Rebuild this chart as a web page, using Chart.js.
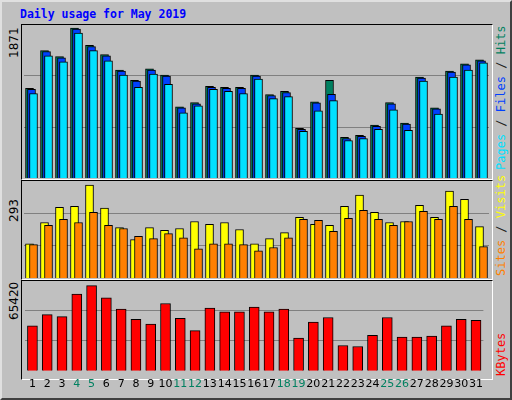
<!DOCTYPE html>
<html>
<head>
<meta charset="utf-8">
<script src="https://cdn.jsdelivr.net/npm/chart.js@4"></script>
<style>
  body { margin: 0; background: #fff; }
  #frame { position: relative; width: 508px; height: 396px; background: #c0c0c0;
           border: 2px solid; border-color: #e0e0e0 #404040 #404040 #e0e0e0; overflow: hidden; }
  .panel { position: absolute; left: 19px; width: 470px; border: 1px solid;
           border-color: #000 #fff #fff #000; }
  canvas { position: absolute; }
  .title { position: absolute; left: 18px; top: 5px; font: bold 11.5px "DejaVu Sans Mono", monospace; color: #0000ff; }
  .lab { position: absolute; font: 12px "DejaVu Sans", sans-serif; white-space: nowrap;
         transform-origin: 0 0; transform: rotate(-90deg); }
  .rlab { position: absolute; font: 12px "DejaVu Sans Mono", monospace; white-space: nowrap;
          transform-origin: 0 0; transform: rotate(-90deg); }
</style>
</head>
<body>
<div id="frame">
  <div class="title">Daily usage for May 2019</div>
  <div class="panel" style="top:22px;height:154px"></div>
  <div class="panel" style="top:178px;height:98px"></div>
  <div class="panel" style="top:278px;height:98px"></div>
  <div class="lab" style="left:5px;top:56px">1871</div>
  <div class="lab" style="left:5px;top:220px">293</div>
  <div class="lab" style="left:5px;top:318px">65420</div>
  <div class="rlab" style="left:492px;top:168px"><span style="color:#00e0ff">Pages</span> <span style="color:#202020">/</span> <span style="color:#0040ff">Files</span> <span style="color:#202020">/</span> <span style="color:#008060">Hits</span></div>
  <div class="rlab" style="left:492px;top:274px"><span style="color:#ff8000">Sites</span> <span style="color:#202020">/</span> <span style="color:#ffff00">Visits</span></div>
  <div class="rlab" style="left:492px;top:374px"><span style="color:#ff0000">KBytes</span></div>
  <canvas id="c1" style="left:20px;top:23px"></canvas>
  <canvas id="c2" style="left:20px;top:179px"></canvas>
  <canvas id="c3" style="left:20px;top:279px"></canvas>
</div>
<script>
// Values
const days = ['1','2','3','4','5','6','7','8','9','10','11','12','13','14','15','16','17','18','19','20','21','22','23','24','25','26','27','28','29','30','31'];
const weekend = ['4','5','11','12','18','19','25','26'];
const hits = [1118,1590,1514,1871,1654,1539,1348,1220,1361,1284,889,940,1144,1131,1131,1284,1042,1080,621,952,1220,506,532,659,940,685,1259,876,1335,1424,1475];
const files = [1105,1578,1501,1858,1641,1526,1335,1208,1348,1271,876,927,1131,1118,1118,1271,1029,1067,608,939,1043,493,519,646,927,672,1246,863,1322,1411,1463];
const pages = [1054,1526,1450,1807,1590,1463,1284,1131,1297,1169,812,901,1106,1080,1054,1233,991,1016,583,838,965,468,493,608,850,595,1208,799,1259,1348,1437];
const visits = [108,175,223,226,293,220,159,121,159,150,156,178,169,175,153,108,124,143,191,169,166,226,261,207,175,178,229,191,274,248,162];
const sites = [105,166,185,175,207,166,156,131,124,140,127,92,108,108,105,86,96,127,185,182,147,188,213,185,166,178,210,185,226,185,99];
const kbytes = [34504,43130,41690,58940,65420,56070,47440,39530,35940,51750,40250,30910,48160,45280,45280,48880,45280,47440,25160,37380,40970,19410,18690,27310,40970,25880,25880,26600,34500,39530,38820];

// shift each dataset sideways so the bars overlap like the original
const shiftPlugin = {
    id: 'shift',
    beforeDatasetDraw(chart, args) {
        chart.ctx.save();
        chart.ctx.translate(args.meta._dataset.shift || 0, 0);
    },
    afterDatasetDraw(chart) {
        chart.ctx.restore();
    }
};

function makeChart(id, w, h, datasets, max, showX) {
    const el = document.getElementById(id);
    el.width = w; el.height = h;
    el.style.width = w + 'px'; el.style.height = h + 'px';
    return new Chart(el, {
        type: 'bar',
        data: { labels: days, datasets: datasets },
        plugins: [shiftPlugin],
        options: {
            responsive: false,
            animation: false,
            layout: { padding: { left: 2, right: 1, top: 0, bottom: 0 } },
            plugins: { legend: { display: false }, tooltip: { enabled: false } },
            datasets: { bar: { grouped: false, borderColor: '#000', borderWidth: 1 } },
            scales: {
                x: {
                    display: showX,
                    grid: { display: false, drawTicks: false },
                    border: { display: false },
                    ticks: {
                        padding: 7,
                        color: ctx => weekend.includes(days[ctx.index]) ? '#008060' : '#000',
                        font: { family: 'DejaVu Sans', size: 11 },
                        maxRotation: 0, autoSkip: false
                    }
                },
                y: {
                    min: 0, max: max,
                    afterBuildTicks: s => { s.ticks = [{ value: max / 3 }, { value: max * 2 / 3 }]; },
                    grid: { color: '#808080', lineWidth: 1, drawTicks: false },
                    border: { display: false },
                    ticks: { display: false }
                }
            }
        }
    });
}

makeChart('c1', 468, 153, [
    { data: pages, backgroundColor: '#00e0ff', barThickness: 8, shift: 2 },
    { data: files, backgroundColor: '#0040ff', barThickness: 8, shift: 0 },
    { data: hits, backgroundColor: '#008060', barThickness: 8, shift: -2 }
], 1871 * 150 / 147, false);

makeChart('c2', 468, 97, [
    { data: sites, backgroundColor: '#ff8000', barThickness: 8, shift: 2 },
    { data: visits, backgroundColor: '#ffff00', barThickness: 8, shift: -2 }
], 293 * 96 / 92, false);

makeChart('c3', 468, 117, [
    { data: kbytes, backgroundColor: '#ff0000', barThickness: 10, shift: 0 }
], 65420 * 96 / 91, true);
</script>
</body>
</html>
